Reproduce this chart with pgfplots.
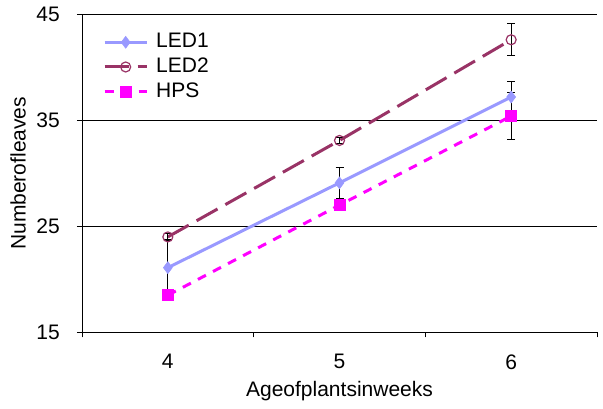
\documentclass[border=0pt]{standalone}
\usepackage{pgfplots}
\pgfplotsset{compat=1.18}
\usepackage{fontspec}
\setmainfont{Liberation Sans}
\definecolor{ledone}{HTML}{9999FF}
\definecolor{ledtwo}{HTML}{993366}
\definecolor{hps}{HTML}{FF00FF}
\begin{document}
\fontsize{21bp}{25bp}\selectfont
\begin{tikzpicture}
\begin{axis}[
 scale only axis, width=515bp, height=318bp,
 xmin=3.5, xmax=6.5, ymin=15, ymax=45,
 axis x line*=bottom, axis y line*=left,
 xtick={4,5,6}, minor xtick={3.5,4.5,5.5,6.5},
 ytick={15,25,35,45},
 ymajorgrids, grid style={black, line width=0.8bp},
 tick align=outside, major tick length=5bp, minor tick length=5bp,
 major x tick style={draw=none},
 tick style={black, line width=0.8bp},
 axis line style={black, line width=0.8bp},
 /pgf/number format/assume math mode=true,
 tick label style={font=\fontsize{21bp}{25bp}\selectfont},
 label style={font=\fontsize{21bp}{25bp}\selectfont},
 xticklabel style={yshift=-10bp},
 yticklabel style={xshift=-10bp},
 xlabel={Ageofplantsinweeks}, ylabel={Numberofleaves},
 xlabel style={at={([yshift=-42bp]axis description cs:0.5,0)}, anchor=north},
 ylabel style={at={([xshift=-49bp]axis description cs:0,0.5)}, anchor=south},
 legend cell align=left,
 legend style={draw=none, fill=none, at={(axis description cs:0,1)}, anchor=north west, xshift=18bp, yshift=-15bp, font=\fontsize{21bp}{25bp}\selectfont, row sep=3bp,
   /tikz/every odd column/.append style={column sep=6bp}},
 legend image code/.code={\draw[mark repeat=2,mark phase=2,#1] plot coordinates {(0bp,0bp) (21bp,0bp) (42bp,0bp)};},
]
\addplot[ledone, line width=3bp, mark=diamond*, mark size=6bp, mark options={solid, fill=ledone, line width=0.5bp},
 error bars/.cd, y dir=both, y explicit,
 error bar style={black, line width=0.8bp, solid},
 error mark options={black, rotate=90, mark size=4bp, line width=0.8bp}]
 coordinates {(4,21.1) +- (0,2.7) (5,29.1) +- (0,1.5) (6,37.2) +- (0,1.5)};
\addlegendentry{LED1}
\addplot[ledtwo, line width=3bp, dash pattern=on 24bp off 9bp, mark=o, mark size=5bp, mark options={solid, line width=1.2bp},
 error bars/.cd, y dir=both, y explicit,
 error bar style={black, line width=0.8bp, solid},
 error mark options={black, rotate=90, mark size=4bp, line width=0.8bp}]
 coordinates {(4,24.0) +- (0,0.3) (5,33.1) +- (0,0.3) (6,42.6) +- (0,1.5)};
\addlegendentry{LED2}
\addplot[hps, line width=3bp, dash pattern=on 9bp off 8bp, mark=square*, mark size=5.5bp, mark options={solid, fill=hps, line width=0.5bp},
 error bars/.cd, y dir=both, y explicit,
 error bar style={black, line width=0.8bp, solid},
 error mark options={black, rotate=90, mark size=4bp, line width=0.8bp}]
 coordinates {(4,18.5) +- (0,0.5) (5,27.0) +- (0,0.3) (6,35.4) +- (0,2.2)};
\addlegendentry{HPS}
\end{axis}
\path ([shift={(-82bp,-71bp)}]current axis.south west) rectangle ([shift={(6bp,12bp)}]current axis.north east);
\end{tikzpicture}
\end{document}
